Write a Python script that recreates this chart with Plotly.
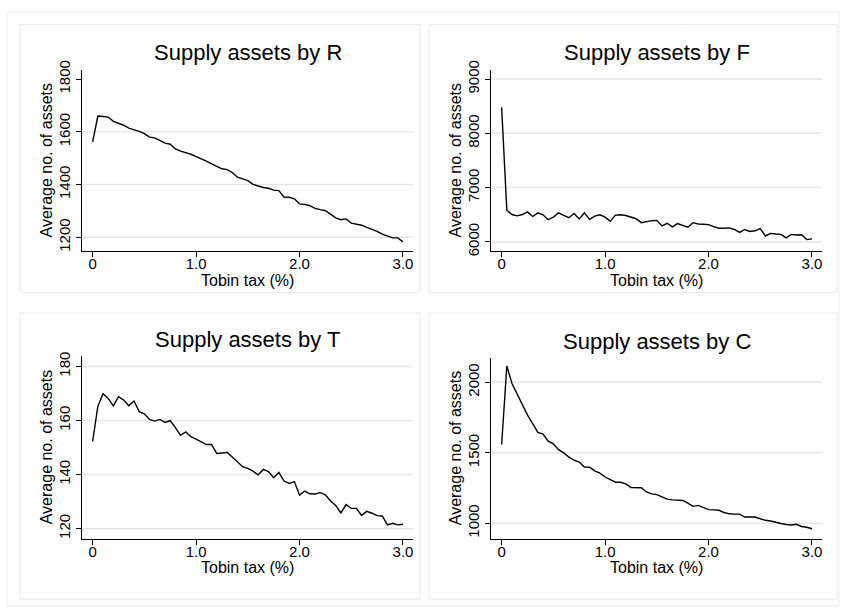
import plotly.graph_objects as go

W, H = 841, 614

tax = [0.00, 0.05, 0.10, 0.15, 0.20, 0.25, 0.30, 0.35, 0.40, 0.45,
       0.50, 0.55, 0.60, 0.65, 0.70, 0.75, 0.80, 0.85, 0.90, 0.95,
       1.00, 1.05, 1.10, 1.15, 1.20, 1.25, 1.30, 1.35, 1.40, 1.45,
       1.50, 1.55, 1.60, 1.65, 1.70, 1.75, 1.80, 1.85, 1.90, 1.95,
       2.00, 2.05, 2.10, 2.15, 2.20, 2.25, 2.30, 2.35, 2.40, 2.45,
       2.50, 2.55, 2.60, 2.65, 2.70, 2.75, 2.80, 2.85, 2.90, 2.95, 3.00]

supply_R = [1562, 1660, 1658, 1656, 1640, 1633, 1625, 1614, 1609, 1602,
            1593, 1580, 1577, 1567, 1557, 1553, 1535, 1527, 1522, 1515,
            1506, 1499, 1489, 1479, 1470, 1460, 1457, 1446, 1428, 1420,
            1415, 1401, 1394, 1389, 1386, 1379, 1377, 1353, 1352, 1346,
            1327, 1325, 1320, 1310, 1305, 1301, 1288, 1274, 1267, 1270,
            1254, 1249, 1246, 1238, 1231, 1223, 1212, 1206, 1198, 1198, 1183]

supply_F = [8478, 6582, 6504, 6480, 6504, 6552, 6468, 6534, 6498, 6408,
            6456, 6534, 6486, 6444, 6522, 6420, 6534, 6414, 6474, 6498,
            6456, 6378, 6492, 6498, 6486, 6462, 6426, 6354, 6378, 6390,
            6396, 6294, 6342, 6276, 6336, 6306, 6270, 6354, 6330, 6324,
            6318, 6282, 6252, 6252, 6258, 6228, 6174, 6228, 6192, 6204,
            6246, 6108, 6156, 6144, 6138, 6072, 6138, 6126, 6132, 6042, 6054]

supply_T = [152.3, 165.2, 169.9, 168.2, 165.4, 168.8, 167.6, 165.5, 167.2, 163.3,
            162.5, 160.4, 159.8, 160.4, 159.3, 160.0, 157.4, 154.5, 155.8, 154.0,
            153.1, 152.1, 151.1, 151.1, 147.8, 148.0, 148.2, 146.5, 144.7, 142.9,
            142.3, 141.3, 139.9, 141.9, 141.1, 138.8, 140.8, 137.6, 136.7, 137.4,
            132.4, 133.9, 132.9, 132.8, 133.3, 132.5, 130.2, 128.6, 125.8, 128.9,
            127.5, 127.5, 124.9, 126.4, 125.7, 124.8, 124.7, 121.4, 122.0, 121.4, 121.6]

supply_C = [1559, 2115, 1991, 1919, 1840, 1767, 1707, 1644, 1633, 1582,
            1563, 1522, 1499, 1469, 1448, 1434, 1399, 1397, 1372, 1356,
            1328, 1312, 1291, 1291, 1279, 1254, 1254, 1252, 1222, 1208,
            1203, 1185, 1171, 1166, 1166, 1162, 1143, 1120, 1127, 1113,
            1097, 1095, 1092, 1076, 1067, 1065, 1065, 1044, 1046, 1044,
            1032, 1021, 1016, 1005, 998, 991, 988, 993, 977, 972, 961]

titles = ["Supply assets by R", "Supply assets by F",
          "Supply assets by T", "Supply assets by C"]
x_tickvals = [0, 1, 2, 3]
x_ticktext = ["0", "1.0", "2.0", "3.0"]
y_ticks_R = [1200, 1400, 1600, 1800]
y_ticks_F = [6000, 7000, 8000, 9000]
y_ticks_T = [120, 140, 160, 180]
y_ticks_C = [1000, 1500, 2000]
grid_R = [1200, 1400, 1600]
grid_F = [6000, 7000, 8000, 9000]
grid_T = [120, 140, 160, 180]
grid_C = [1000, 1500, 2000]
y_title = "Average no. of assets"
x_title = "Tobin tax (%)"

FONT = "Liberation Sans, Arial, Helvetica, sans-serif"


def px(x):
    return x / W


def py(y):
    return 1 - y / H


panels = [
    dict(y=supply_R, ticks=y_ticks_R, grid=grid_R, yr=[1147, 1836],
         box=(82, 413, 62, 248), frame=(20, 420, 16, 290), title=titles[0]),
    dict(y=supply_F, ticks=y_ticks_F, grid=grid_F, yr=[5825, 9175],
         box=(491, 822, 62, 248), frame=(429, 837, 16, 290), title=titles[1]),
    dict(y=supply_T, ticks=y_ticks_T, grid=grid_T, yr=[116.3, 183.9],
         box=(82, 413, 355, 542), frame=(20, 420, 311, 604), title=titles[2]),
    dict(y=supply_C, ticks=y_ticks_C, grid=grid_C, yr=[891, 2173],
         box=(491, 822, 357, 542), frame=(429, 837, 311, 604), title=titles[3]),
]

fig = go.Figure()
layout = dict(
    width=W, height=H,
    margin=dict(l=0, r=0, t=0, b=0),
    paper_bgcolor="white", plot_bgcolor="white",
    showlegend=False,
    font=dict(family=FONT, color="black", size=15),
)
shapes = []
annotations = []

shapes.append(dict(type="rect", xref="paper", yref="paper",
                   x0=px(7), x1=px(839), y0=py(611), y1=py(3),
                   line=dict(color="#ececec", width=1), layer="below"))

for i, p in enumerate(panels, start=1):
    xa = "x" if i == 1 else f"x{i}"
    ya = "y" if i == 1 else f"y{i}"
    x0, x1, y0, y1 = p["box"]
    fx0, fx1, fy0, fy1 = p["frame"]
    shapes.append(dict(type="rect", xref="paper", yref="paper",
                       x0=px(fx0), x1=px(fx1), y0=py(fy1), y1=py(fy0),
                       line=dict(color="#e9e9e9", width=1), layer="below"))
    for g in p["grid"]:
        shapes.append(dict(type="line", xref=f"{xa} domain", yref=ya,
                           x0=0, x1=1, y0=g, y1=g,
                           line=dict(color="#e6e6e6", width=1.5), layer="below"))
    fig.add_trace(go.Scatter(x=tax, y=p["y"], mode="lines",
                             line=dict(color="black", width=1.4),
                             xaxis=xa, yaxis=ya, hoverinfo="skip"))
    key = "" if i == 1 else str(i)
    layout[f"xaxis{key}"] = dict(
        domain=[px(x0), px(x1)], range=[-0.103, 3.097], anchor=ya,
        showgrid=False, zeroline=False, showline=True, linecolor="black",
        linewidth=1, ticks="outside", ticklen=5, tickwidth=1, tickcolor="black",
        tickvals=x_tickvals, ticktext=x_ticktext, tickfont=dict(size=15),
        ticklabelstandoff=-6, fixedrange=True)
    layout[f"yaxis{key}"] = dict(
        domain=[py(y1), py(y0)], range=p["yr"], anchor=xa,
        showgrid=False, zeroline=False, showline=True, linecolor="black",
        linewidth=1, ticks="outside", ticklen=5, tickwidth=1, tickcolor="black",
        tickvals=p["ticks"], tickangle=-90, tickfont=dict(size=15),
        fixedrange=True)
    cx = (x0 + x1) / 2
    annotations.append(dict(text=p["title"], xref="paper", yref="paper",
                            x=px(cx), y=py(y0 - 17), xanchor="center",
                            yanchor="middle", showarrow=False,
                            font=dict(size=22)))
    annotations.append(dict(text=x_title, xref="paper", yref="paper",
                            x=px(cx), y=py(y1 + 30), xanchor="center",
                            yanchor="middle", showarrow=False,
                            font=dict(size=16)))
    annotations.append(dict(text=y_title, xref="paper", yref="paper",
                            x=px(x0 - 36), y=py((y0 + y1) / 2), xanchor="center",
                            yanchor="middle", textangle=-90, showarrow=False,
                            font=dict(size=16)))

layout["shapes"] = shapes
layout["annotations"] = annotations
fig.update_layout(**layout)

css_fix = (
    "var d=document.documentElement,b=document.body;"
    "d.style.margin='0';d.style.padding='0';d.style.overflow='hidden';"
    "d.style.height='614px';"
    "b.style.margin='0';b.style.padding='0';b.style.overflow='hidden';"
    "b.style.height='614px';b.style.lineHeight='0';"
)
fig.write_html("out.html", config={"displayModeBar": False},
               post_script=css_fix)
